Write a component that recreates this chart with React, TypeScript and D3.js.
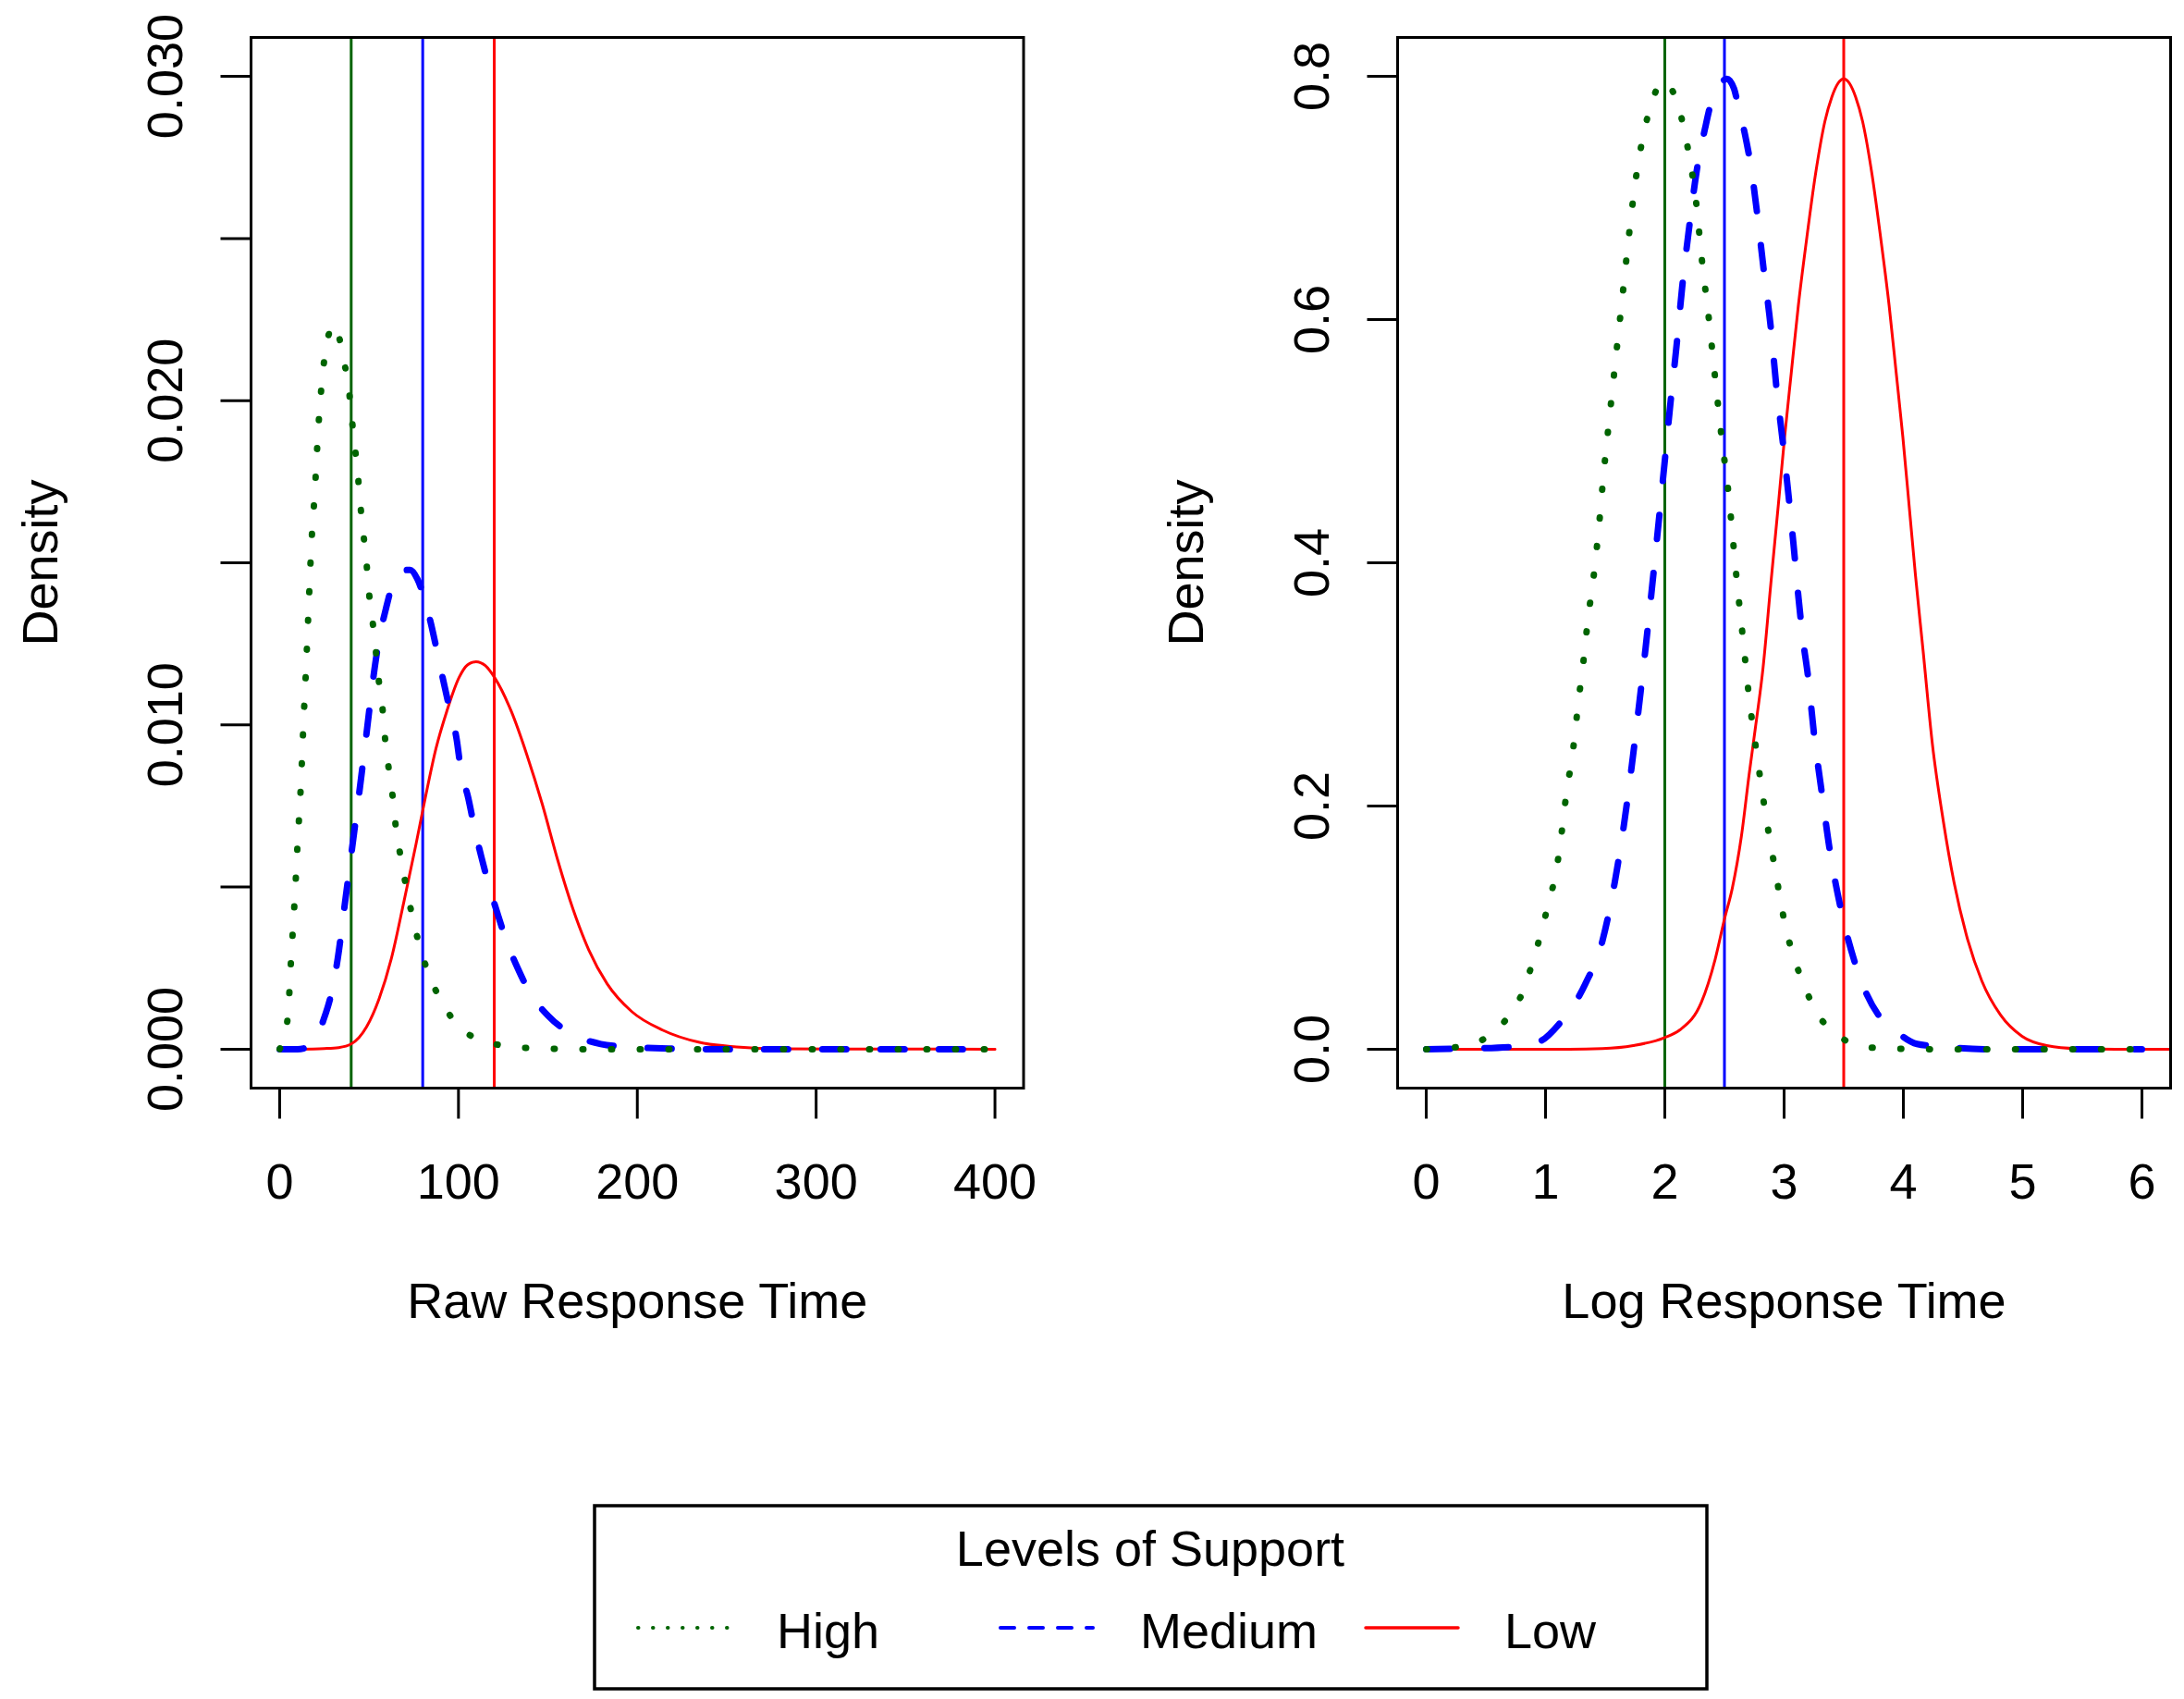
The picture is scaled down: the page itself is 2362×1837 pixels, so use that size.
import { curveMonotoneX, format, line as d3Line, scaleLinear } from "d3";

type Pt = [number, number];

// ---- data ----
const levels = ["High", "Medium", "Low"];

const rawTicks = [0, 100, 200, 300, 400];
const rawDensityTicks = [0, 0.005, 0.01, 0.015, 0.02, 0.025, 0.03];
const rawDensityLabels = [0, 0.01, 0.02, 0.03];
const rawMeans = [40, 80, 120];

const logTicks = [0, 1, 2, 3, 4, 5, 6];
const logDensityTicks = [0, 0.2, 0.4, 0.6, 0.8];
const logMeans = [2, 2.5, 3.5];

const highRaw: Pt[] = [
  [0, 0], [2, 0.0003], [4.6, 0.00102], [6.4, 0.00278], [8.4, 0.0046], [10.1, 0.0064],
  [12, 0.0083], [13.3, 0.01003], [14.8, 0.0118], [16.2, 0.01362], [17.6, 0.01541],
  [19.7, 0.01723], [21.5, 0.01904], [24.1, 0.02084], [26.2, 0.02173], [28.5, 0.0222],
  [31, 0.02235], [33.5, 0.0219], [35.7, 0.02128], [38.6, 0.0204], [40.3, 0.01947],
  [42.1, 0.01856], [43.8, 0.01767], [45.2, 0.01675], [46.9, 0.01586], [48.6, 0.01497],
  [50, 0.01406], [52, 0.01318], [53.8, 0.01227], [55.5, 0.01134], [57.6, 0.01046],
  [59, 0.00955], [61, 0.00865], [63.3, 0.00774], [65, 0.00683], [67.6, 0.00595],
  [70.7, 0.00502], [74.1, 0.00412], [77.9, 0.00326], [83.4, 0.00231], [90.8, 0.00145],
  [100.3, 0.00069], [115.9, 0.00023], [131.4, 0.00007], [148.6, 0.00002], [170, 0], [400, 0],
];

const mediumRaw: Pt[] = [
  [0, 0], [10, 0], [17, 0.0001], [21, 0.0004], [24.5, 0.0009], [28.8, 0.0017],
  [32.5, 0.0028], [36.5, 0.0045], [40.5, 0.0062], [44.5, 0.0079], [48.5, 0.0097],
  [52, 0.0113], [55.5, 0.0126], [59.5, 0.0136], [63.5, 0.0144], [68, 0.01475],
  [73, 0.01478], [77, 0.0145], [80.5, 0.01398], [84.8, 0.01308], [88.2, 0.01222],
  [91.7, 0.01132], [95.2, 0.01046], [99, 0.00955], [101.2, 0.00867], [105.5, 0.00774],
  [108.9, 0.00683], [112.8, 0.00593], [117.2, 0.00502], [121.9, 0.00417], [127, 0.00331],
  [133.1, 0.0025], [140, 0.00174], [150.3, 0.00102], [164.1, 0.00045], [179.6, 0.00016],
  [195.2, 0.00007], [217.6, 0.00002], [240, 0], [400, 0],
];

const lowRaw: Pt[] = [
  [10, 0], [25, 0.00002], [33, 0.00005], [40, 0.00016], [48.6, 0.00069], [55.5, 0.00154],
  [62.4, 0.00278], [69.3, 0.0045], [76.2, 0.00631], [81.4, 0.00774], [87.4, 0.00927],
  [93.4, 0.01041], [100.3, 0.01146], [105, 0.01185], [109.8, 0.01195], [115, 0.01183],
  [120.2, 0.01146], [129.6, 0.01041], [138.3, 0.00907], [146.9, 0.00755], [155.5, 0.00583],
  [164.1, 0.00431], [172.8, 0.00307], [183.1, 0.00202], [196.9, 0.00116], [214.1, 0.00059],
  [234.8, 0.00021], [255.5, 0.00007], [280, 0.00001], [400, 0],
];

const highLog: Pt[] = [
  [0, 0], [0.26, 0.0018], [0.5, 0.0094], [0.68, 0.0258], [0.81, 0.0473], [0.89, 0.0709],
  [0.96, 0.0947], [1.02, 0.118], [1.08, 0.142], [1.12, 0.166], [1.15, 0.19], [1.18, 0.214],
  [1.22, 0.238], [1.25, 0.262], [1.275, 0.286], [1.308, 0.31], [1.334, 0.334], [1.36, 0.357],
  [1.394, 0.381], [1.446, 0.428], [1.49, 0.476], [1.541, 0.524], [1.593, 0.572],
  [1.645, 0.619], [1.697, 0.667], [1.756, 0.715], [1.844, 0.762], [1.917, 0.786],
  [1.985, 0.796], [2.06, 0.789], [2.137, 0.767], [2.189, 0.743], [2.228, 0.721],
  [2.262, 0.697], [2.311, 0.649], [2.37, 0.6], [2.422, 0.552], [2.474, 0.505],
  [2.534, 0.457], [2.604, 0.385], [2.656, 0.337], [2.707, 0.289], [2.772, 0.242],
  [2.844, 0.194], [2.928, 0.146], [3.018, 0.098], [3.088, 0.0739], [3.173, 0.0511],
  [3.277, 0.0296], [3.445, 0.0119], [3.692, 0.0018], [3.91, 0.0005], [4.3, 0], [6, 0],
];

const mediumLog: Pt[] = [
  [0, 0], [0.31, 0.0005], [0.7, 0.0018], [0.958, 0.0068], [1.114, 0.0207], [1.334, 0.0537],
  [1.477, 0.089], [1.58, 0.137], [1.658, 0.185], [1.723, 0.233], [1.782, 0.281],
  [1.839, 0.33], [1.891, 0.378], [1.943, 0.428], [2.0, 0.484], [2.047, 0.531],
  [2.098, 0.578], [2.145, 0.626], [2.202, 0.674], [2.267, 0.722], [2.337, 0.757],
  [2.396, 0.781], [2.46, 0.793], [2.52, 0.798], [2.58, 0.79], [2.617, 0.775],
  [2.681, 0.748], [2.72, 0.727], [2.772, 0.689], [2.829, 0.641], [2.889, 0.593],
  [2.935, 0.545], [2.992, 0.497], [3.044, 0.449], [3.078, 0.416], [3.122, 0.37],
  [3.161, 0.335], [3.2, 0.307], [3.251, 0.259], [3.316, 0.211], [3.381, 0.165],
  [3.472, 0.117], [3.601, 0.0689], [3.808, 0.0258], [3.925, 0.0157], [4.114, 0.0043],
  [4.347, 0.0018], [4.7, 0], [6, 0],
];

const lowLog: Pt[] = [
  [0, 0], [1.2, 0], [1.477, 0.0005], [1.736, 0.003], [1.995, 0.0094], [2.124, 0.0157],
  [2.306, 0.0385], [2.422, 0.0739], [2.5, 0.107], [2.565, 0.132], [2.642, 0.175],
  [2.707, 0.226], [2.759, 0.264], [2.824, 0.314], [2.889, 0.383], [2.953, 0.449],
  [3.005, 0.504], [3.06, 0.556], [3.12, 0.612], [3.186, 0.664], [3.264, 0.72],
  [3.342, 0.763], [3.4, 0.783], [3.45, 0.794], [3.5, 0.798], [3.55, 0.794],
  [3.6, 0.783], [3.658, 0.763], [3.736, 0.72], [3.814, 0.664], [3.88, 0.612],
  [3.94, 0.556], [3.995, 0.504], [4.05, 0.445], [4.101, 0.39], [4.166, 0.327],
  [4.243, 0.251], [4.334, 0.188], [4.425, 0.137], [4.528, 0.094], [4.658, 0.056],
  [4.813, 0.0283], [4.995, 0.0106], [5.202, 0.003], [5.461, 0.0005], [5.8, 0], [6.3, 0],
];

// ---- styling ----
const FONT = "'Liberation Sans', Arial, Helvetica, sans-serif";
const COLORS = ["#006400", "#0000ff", "#ff0000"];
const CURVE_STYLE = [
  { width: 7, dash: "1 30" },
  { width: 7, dash: "26 37" },
  { width: 3, dash: undefined as string | undefined },
];
const LEGEND_STYLE = [
  { width: 4, dash: "0.5 15.5" },
  { width: 4, dash: "15 16" },
  { width: 3.5, dash: undefined as string | undefined },
];

const W = 2362;
const H = 1837;
const TOP = 40.5;
const BOTTOM = 1176.5;

function Panel({
  id,
  left,
  right,
  xMax,
  yMax,
  xTicks,
  yTicks,
  yLabels,
  yFmt,
  series,
  means,
  xTitle,
  yLabelX,
  titleX,
}: {
  id: string;
  left: number;
  right: number;
  xMax: number;
  yMax: number;
  xTicks: number[];
  yTicks: number[];
  yLabels: number[];
  yFmt: (v: number) => string;
  series: Pt[][];
  means: number[];
  xTitle: string;
  yLabelX: number;
  titleX: number;
}) {
  // R style 4% axis expansion
  const x = scaleLinear()
    .domain([-0.04 * xMax, 1.04 * xMax])
    .range([left, right]);
  const y = scaleLinear()
    .domain([-0.04 * yMax, 1.04 * yMax])
    .range([BOTTOM, TOP]);

  const line = d3Line<Pt>()
    .x((d) => x(d[0]))
    .y((d) => y(d[1]))
    .curve(curveMonotoneX);

  const cx = (left + right) / 2;
  const cy = (TOP + BOTTOM) / 2;
  const order = [2, 1, 0];

  return (
    <g>
      <defs>
        <clipPath id={`clip-${id}`}>
          <rect x={left} y={TOP} width={right - left} height={BOTTOM - TOP} />
        </clipPath>
      </defs>

      <g clipPath={`url(#clip-${id})`}>
        {/* mean lines */}
        {means.map((m, i) => (
          <line
            key={`m${i}`}
            x1={x(m)}
            x2={x(m)}
            y1={TOP}
            y2={BOTTOM}
            stroke={COLORS[i]}
            strokeWidth={3}
          />
        ))}
        {/* density curves */}
        {order.map((i) => (
          <path
            key={`c${i}`}
            d={line(series[i]) ?? ""}
            fill="none"
            stroke={COLORS[i]}
            strokeWidth={CURVE_STYLE[i].width}
            strokeDasharray={CURVE_STYLE[i].dash}
            strokeLinecap="round"
            strokeLinejoin="round"
          />
        ))}
      </g>

      <rect
        x={left}
        y={TOP}
        width={right - left}
        height={BOTTOM - TOP}
        fill="none"
        stroke="#000"
        strokeWidth={3}
      />

      {/* x axis */}
      {xTicks.map((t) => (
        <g key={`x${t}`}>
          <line x1={x(t)} x2={x(t)} y1={BOTTOM} y2={BOTTOM + 33} stroke="#000" strokeWidth={3} />
          <text x={x(t)} y={1296} textAnchor="middle" fontSize={54} fontFamily={FONT}>
            {t}
          </text>
        </g>
      ))}

      {/* y axis */}
      {yTicks.map((t) => (
        <line key={`y${t}`} x1={left - 33} x2={left} y1={y(t)} y2={y(t)} stroke="#000" strokeWidth={3} />
      ))}
      {yLabels.map((t) => (
        <text
          key={`yl${t}`}
          transform={`translate(${yLabelX},${y(t)}) rotate(-90)`}
          textAnchor="middle"
          fontSize={54}
          fontFamily={FONT}
        >
          {yFmt(t)}
        </text>
      ))}

      <text x={cx} y={1425} textAnchor="middle" fontSize={54} fontFamily={FONT}>
        {xTitle}
      </text>
      <text
        transform={`translate(${titleX},${cy}) rotate(-90)`}
        textAnchor="middle"
        fontSize={54}
        fontFamily={FONT}
      >
        Density
      </text>
    </g>
  );
}

function Legend() {
  const box = { x: 643, y: 1628, w: 1203, h: 198 };
  const lineX = [690, 1082, 1477];
  const textX = [840, 1233, 1627];
  const rowY = 1760;
  return (
    <g>
      <rect
        x={box.x}
        y={box.y}
        width={box.w}
        height={box.h}
        fill="#fff"
        stroke="#000"
        strokeWidth={3.5}
      />
      <text x={1244} y={1693} textAnchor="middle" fontSize={54} fontFamily={FONT}>
        Levels of Support
      </text>
      {levels.map((lv, i) => (
        <g key={lv}>
          <line
            x1={lineX[i]}
            x2={lineX[i] + 100}
            y1={rowY}
            y2={rowY}
            stroke={COLORS[i]}
            strokeWidth={LEGEND_STYLE[i].width}
            strokeDasharray={LEGEND_STYLE[i].dash}
            strokeLinecap="round"
          />
          <text x={textX[i]} y={1782} fontSize={54} fontFamily={FONT}>
            {lv}
          </text>
        </g>
      ))}
    </g>
  );
}

export default function App() {
  const f3 = format(".3f");
  const f1 = format(".1f");
  return (
    <>
      <style>{`body{margin:0;background:#fff}`}</style>
      <svg width={W} height={H} viewBox={`0 0 ${W} ${H}`} style={{ display: "block", background: "#fff" }}>
        <Panel
          id="raw"
          left={271.5}
          right={1107}
          xMax={400}
          yMax={0.03}
          xTicks={rawTicks}
          yTicks={rawDensityTicks}
          yLabels={rawDensityLabels}
          yFmt={f3}
          series={[highRaw, mediumRaw, lowRaw]}
          means={rawMeans}
          xTitle="Raw Response Time"
          yLabelX={197}
          titleX={62}
        />
        <Panel
          id="log"
          left={1511.5}
          right={2347.5}
          xMax={6}
          yMax={0.8}
          xTicks={logTicks}
          yTicks={logDensityTicks}
          yLabels={logDensityTicks}
          yFmt={f1}
          series={[highLog, mediumLog, lowLog]}
          means={logMeans}
          xTitle="Log Response Time"
          yLabelX={1437}
          titleX={1301}
        />
        <Legend />
      </svg>
    </>
  );
}
